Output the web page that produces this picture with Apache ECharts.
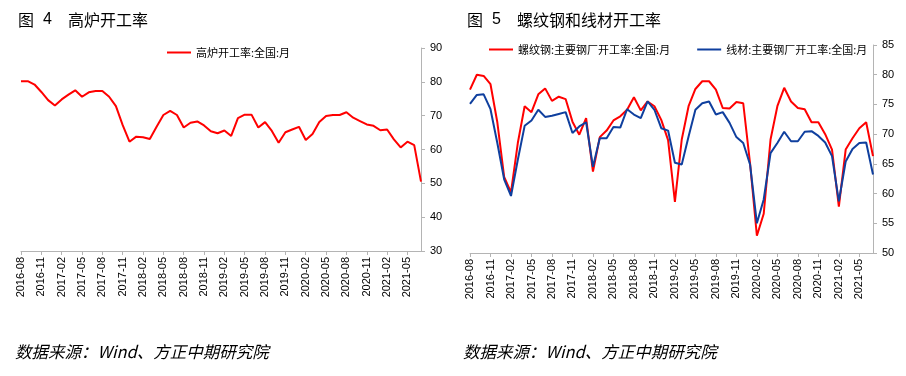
<!DOCTYPE html>
<html>
<head>
<meta charset="utf-8">
<script src="https://cdn.jsdelivr.net/npm/echarts@6/dist/echarts.min.js"></script>
<style>
  html, body { margin: 0; padding: 0; background: #fff; }
  #main { width: 906px; height: 376px; }
</style>
</head>
<body>
<div id="main"></div>
<script>
// 月份 2016-08 ~ 2021-07
var months = [
  '2016-08','2016-09','2016-10','2016-11','2016-12',
  '2017-01','2017-02','2017-03','2017-04','2017-05','2017-06','2017-07','2017-08','2017-09','2017-10','2017-11','2017-12',
  '2018-01','2018-02','2018-03','2018-04','2018-05','2018-06','2018-07','2018-08','2018-09','2018-10','2018-11','2018-12',
  '2019-01','2019-02','2019-03','2019-04','2019-05','2019-06','2019-07','2019-08','2019-09','2019-10','2019-11','2019-12',
  '2020-01','2020-02','2020-03','2020-04','2020-05','2020-06','2020-07','2020-08','2020-09','2020-10','2020-11','2020-12',
  '2021-01','2021-02','2021-03','2021-04','2021-05','2021-06','2021-07'
];

// 图4 高炉开工率
var blastFurnace = [
  80.2, 80.2, 79.2, 77.0, 74.6, 73.0, 74.8, 76.2, 77.5, 75.6,
  76.9, 77.3, 77.3, 75.6, 72.8, 67.2, 62.3, 63.8, 63.6, 63.1,
  66.7, 70.2, 71.4, 70.2, 66.5, 67.9, 68.3, 67.1, 65.4, 64.8,
  65.6, 64.0, 69.3, 70.3, 70.3, 66.5, 68.1, 65.5, 62.0, 65.1,
  65.9, 66.7, 62.8, 64.6, 68.1, 69.9, 70.2, 70.2, 71.0, 69.4,
  68.4, 67.4, 67.0, 65.7, 65.9, 63.0, 60.6, 62.3, 61.3, 50.5
];

// 图5 螺纹钢 / 线材 开工率
var rebar = [
  77.5, 80.0, 79.8, 78.4, 72.0, 62.8, 60.2, 68.5, 74.7, 73.7,
  76.7, 77.7, 75.6, 76.3, 75.9, 72.1, 69.9, 72.7, 63.7, 69.5,
  70.6, 72.3, 73.0, 74.1, 76.2, 74.0, 75.5, 74.7, 72.4, 69.0,
  58.6, 69.1, 74.7, 77.6, 78.9, 78.9, 77.5, 74.4, 74.3, 75.4,
  75.2, 65.1, 52.9, 56.6, 69.1, 74.7, 77.8, 75.5, 74.4, 74.2,
  72.0, 72.0, 70.0, 67.4, 57.8, 67.4, 69.3, 71.0, 72.0, 66.3
];
var wireRod = [
  75.1, 76.6, 76.7, 74.2, 68.5, 62.4, 59.6, 65.7, 71.4, 72.3,
  74.1, 72.9, 73.1, 73.4, 73.7, 70.2, 71.3, 72.0, 64.5, 69.3,
  69.3, 71.2, 71.1, 74.2, 73.3, 72.7, 75.5, 74.1, 71.0, 70.6,
  65.2, 64.9, 69.6, 74.1, 75.2, 75.5, 73.3, 73.7, 71.9, 69.5,
  68.5, 64.9, 55.0, 59.0, 66.8, 68.5, 70.4, 68.8, 68.8, 70.4,
  70.5, 69.7, 68.6, 66.3, 58.7, 65.4, 67.5, 68.5, 68.6, 63.2
];

var leftTicks = { min: 30, max: 90, interval: 10 };
var rightTicks = { min: 50, max: 85, interval: 5 };

var axisColor = '#b4b4b4';
var labelFont = { color: '#000', fontSize: 11, fontFamily: 'Liberation Sans, Arial, sans-serif' };
var cjk = 'Noto Sans CJK SC';

function xAxisFor(gridIndex) {
  return {
    type: 'category', gridIndex: gridIndex, data: months, boundaryGap: false,
    axisLine: { lineStyle: { color: axisColor, width: 1 } },
    axisTick: { interval: 2, length: 4, lineStyle: { color: axisColor } },
    axisLabel: Object.assign({ interval: 2, rotate: 90, margin: 6 }, labelFont),
    splitLine: { show: false }
  };
}
function yAxisFor(gridIndex, t) {
  return {
    type: 'value', gridIndex: gridIndex, position: 'right',
    min: t.min, max: t.max, interval: t.interval,
    axisLine: { show: true, lineStyle: { color: axisColor, width: 1 } },
    axisTick: { show: true, length: 4, lineStyle: { color: axisColor } },
    axisLabel: Object.assign({ margin: 9 }, labelFont),
    splitLine: { show: false }
  };
}
function titleAt(text, left, fam) {
  return { text: text, left: left, top: 7,
    textStyle: { fontSize: 16, fontWeight: 'normal', color: '#000', fontFamily: fam || cjk } };
}

var myChart = echarts.init(document.getElementById('main'), null, { renderer: 'canvas' });
myChart.setOption({
  animation: false,
  backgroundColor: '#fff',
  title: [
    titleAt('图', 13), titleAt('4', 38, 'Liberation Sans'), titleAt('高炉开工率', 63),
    titleAt('图', 462), titleAt('5', 487, 'Liberation Sans'), titleAt('螺纹钢和线材开工率', 512)
  ],
  legend: [
    {
      left: 162, top: 42, icon: 'rect', itemWidth: 24, itemHeight: 2, itemGap: 29,
      textStyle: { fontSize: 11, color: '#000', fontFamily: cjk },
      data: ['高炉开工率:全国:月']
    },
    {
      left: 484, top: 39, icon: 'rect', itemWidth: 24, itemHeight: 2, itemGap: 27,
      textStyle: { fontSize: 11, color: '#000', fontFamily: cjk },
      data: ['螺纹钢:主要钢厂开工率:全国:月', '线材:主要钢厂开工率:全国:月']
    }
  ],
  grid: [
    { left: 21, right: 485, top: 48, bottom: 125 },
    { left: 470, right: 33, top: 45, bottom: 123 }
  ],
  xAxis: [xAxisFor(0), xAxisFor(1)],
  yAxis: [yAxisFor(0, leftTicks), yAxisFor(1, rightTicks)],
  graphic: [
    { type: 'text', left: 15, top: 343,
      style: { text: '数据来源：Wind、方正中期研究院', fontSize: 16.5, fontStyle: 'italic', fill: '#000', fontFamily: cjk } },
    { type: 'text', left: 463, top: 343,
      style: { text: '数据来源：Wind、方正中期研究院', fontSize: 16.5, fontStyle: 'italic', fill: '#000', fontFamily: cjk } }
  ],
  series: [
    { name: '高炉开工率:全国:月', type: 'line', xAxisIndex: 0, yAxisIndex: 0, data: blastFurnace,
      showSymbol: false, symbol: 'none', itemStyle: { color: '#ff0000' }, lineStyle: { color: '#ff0000', width: 2 } },
    { name: '螺纹钢:主要钢厂开工率:全国:月', type: 'line', xAxisIndex: 1, yAxisIndex: 1, data: rebar,
      showSymbol: false, symbol: 'none', itemStyle: { color: '#ff0000' }, lineStyle: { color: '#ff0000', width: 2 } },
    { name: '线材:主要钢厂开工率:全国:月', type: 'line', xAxisIndex: 1, yAxisIndex: 1, data: wireRod,
      showSymbol: false, symbol: 'none', itemStyle: { color: '#0f3f9e' }, lineStyle: { color: '#0f3f9e', width: 2 } }
  ]
});
</script>
</body>
</html>
